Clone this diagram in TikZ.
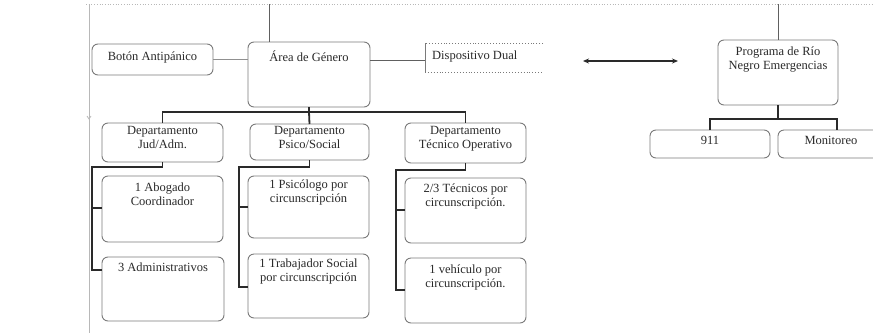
\documentclass[tikz,border=0pt]{standalone}
\usepackage{fontspec}
\setmainfont{Liberation Serif}
\usetikzlibrary{arrows.meta}
\definecolor{boxline}{HTML}{7A7A7A}
\definecolor{inkc}{HTML}{2A2A2A}
\definecolor{thinc}{HTML}{606060}
\definecolor{pagec}{HTML}{B8B8B8}
\tikzset{
  orgbox/.style={draw=boxline, line width=0.9pt, rounded corners=6pt},
  txt/.style={text=inkc, font=\fontsize{12.5}{14}\selectfont, align=center, inner sep=0pt, anchor=north},
  tree/.style={draw=inkc, line width=1.8pt},
  thin/.style={draw=thinc, line width=0.8pt},
  page/.style={draw=pagec, line width=0.7pt},
}
\newcommand{\orgnode}[5]{% name, x1, y1, x2, y2
  \path[orgbox] (#2,#3) rectangle (#4,#5);
  \coordinate (#1-nw) at (#2,#3);
  \coordinate (#1-se) at (#4,#5);
  \node[inner sep=0pt, outer sep=0pt, minimum width=#4pt-#2pt, minimum height=#5pt-#3pt] (#1) at ({(#2+#4)/2},{(#3+#5)/2}) {};
}
\begin{document}
\begin{tikzpicture}[x=1pt,y=-1pt]
\useasboundingbox (0,0) rectangle (873,333);
\fill[white] (0,0) rectangle (873,333);

% page frame artifacts
\coordinate (pt1) at (86,4);
\coordinate (pt2) at (873,4);
\coordinate (pl1) at (89,4);
\coordinate (pl2) at (89,333);
\draw[page, dotted] (pt1) -- (pt2);
\draw[page] (pl1) -- (pl2);
\draw[page] (87,116) -- (89,119) -- (91,116);

% boxes
\orgnode{boton}{92}{44}{213}{75}
\orgnode{area}{248}{42}{370}{107}
\orgnode{prog}{718}{40}{838}{105}
\orgnode{nine}{650}{130}{770}{158}
\orgnode{monit}{778}{130}{900}{158}
\orgnode{dA}{102}{123}{223}{162}
\orgnode{dB}{250}{124}{369}{160}
\orgnode{dC}{405}{123}{526}{163}
\orgnode{abog}{102}{176}{223}{242}
\orgnode{admin}{102}{257}{224}{321}
\orgnode{psico}{248}{176}{369}{238}
\orgnode{trab}{248}{254}{369}{318}
\orgnode{tecn}{405}{178}{526}{243}
\orgnode{vehic}{405}{258}{526}{323}

% Dispositivo Dual (open on the right)
\coordinate (dispR1) at (543,43);
\coordinate (dispR2) at (543,72);
\draw[boxline, line width=0.9pt, dotted] (dispR1) -- (425,43);
\draw[boxline, line width=0.9pt] (425,43) -- (425,72);
\draw[boxline, line width=0.9pt, dotted] (425,72) -- (dispR2);
\node[inner sep=0pt, minimum width=118pt, minimum height=29pt] (disp) at (484,57.5) {};

% texts
\node[txt] at (152.5,52) {Botón Antipánico};
\node[txt] at (309,51) {Área de Género};
\node[txt, anchor=north west] at (432,51) {Dispositivo Dual};
\node[txt] at (778,47) {Programa de Río\\Negro Emergencias};
\node[txt] at (710,136) {911};
\node[txt] at (831,136) {Monitoreo};
\node[txt] at (162.5,126) {Departamento\\Jud/Adm.};
\node[txt] at (309.5,126) {Departamento\\Psico/Social};
\node[txt] at (465.5,126) {Departamento\\Técnico Operativo};
\node[txt] at (162.5,183) {1 Abogado\\Coordinador};
\node[txt] at (163,263) {3 Administrativos};
\node[txt] at (308.5,180) {1 Psicólogo por\\circunscripción};
\node[txt] at (308.5,259) {1 Trabajador Social\\por circunscripción};
\node[txt] at (465.5,184) {2/3 Técnicos por\\circunscripción.};
\node[txt] at (465.5,265) {1 vehículo por\\circunscripción.};

% thin connectors
\coordinate (topA) at (269,4);
\coordinate (topP) at (778,4);
\draw[thin] (topA) -- (topA |- area.north);
\draw[thin] (topP) -- (prog.north);
\draw[thin, draw=thinc!70] (boton.east) -- (boton.east -| area.west);
\draw[thin] (area.east |- disp.west) ++(0,2.5) coordinate (aE) (aE) -- (aE -| disp.west);

% double arrow
\coordinate (arL) at (583,61);
\coordinate (arR) at (678,61);
\draw[tree, line width=1.3pt, {Stealth[length=6pt,width=5pt]}-{Stealth[length=6pt,width=5pt]}] (arL) -- (arR);

% Programa tree
\draw[tree] (prog.south) -- (778,119) coordinate (pj);
\draw[tree] (nine.north) -- (710,119) -- (837,119) -- (837,130);

% main tree
\draw[tree] (area.south) -- (309,112);
\draw[tree] (dA.north) -- (162.5,112) -- (465.5,112) -- (dC.north);
\draw[tree] (309,112) -- (dB.north);

% Jud/Adm column
\draw[tree] (dA.south) -- (162.5,167) -- (92,167) -- (92,270) -- (admin.west |- 0,270);
\draw[tree] (92,208) -- (abog.west |- 0,208);
% Psico/Social column
\draw[tree] (dB.south) -- (309.5,167) -- (239,167) -- (239,287) -- (trab.west |- 0,287);
\draw[tree] (239,207) -- (psico.west |- 0,207);
% Tecnico column
\draw[tree] (dC.south) -- (465.5,170) -- (396,170) -- (396,290) -- (vehic.west |- 0,290);
\draw[tree] (396,210) -- (tecn.west |- 0,210);
\end{tikzpicture}
\end{document}
